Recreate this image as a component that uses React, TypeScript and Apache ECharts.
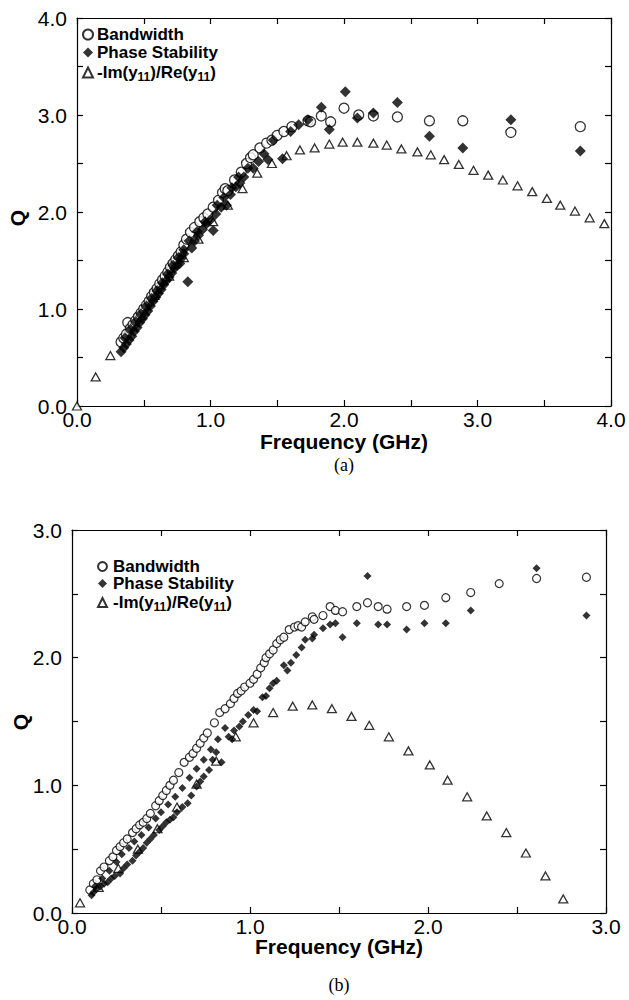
import React, { useEffect, useRef } from "react";
import * as echarts from "echarts";

// ---------- Data: chart (a) ----------
const aBandwidth: [number, number][] = [
  [0.33, 0.66], [0.35, 0.70], [0.37, 0.74], [0.38, 0.86], [0.40, 0.80], [0.42, 0.84], [0.44, 0.88],
  [0.46, 0.92], [0.48, 0.96], [0.50, 1.00], [0.52, 1.04], [0.54, 1.08], [0.56, 1.13], [0.58, 1.17],
  [0.60, 1.21], [0.62, 1.26], [0.64, 1.30], [0.66, 1.34], [0.68, 1.38], [0.70, 1.43], [0.72, 1.47],
  [0.74, 1.51], [0.76, 1.55], [0.78, 1.59], [0.80, 1.66], [0.82, 1.72], [0.85, 1.79], [0.88, 1.84],
  [0.92, 1.90], [0.95, 1.94], [0.98, 1.98], [1.02, 2.05], [1.06, 2.12], [1.09, 2.20], [1.11, 2.24],
  [1.13, 2.22], [1.18, 2.33], [1.23, 2.41], [1.27, 2.50], [1.30, 2.56], [1.32, 2.59], [1.37, 2.66],
  [1.42, 2.71], [1.46, 2.74], [1.50, 2.79], [1.55, 2.83], [1.61, 2.88], [1.73, 2.94], [1.75, 2.93],
  [1.83, 2.99], [1.90, 2.93], [2.00, 3.07], [2.11, 3.00], [2.22, 2.99], [2.40, 2.98], [2.64, 2.94],
  [2.89, 2.94], [3.25, 2.82], [3.77, 2.88],
];
const aPhase: [number, number][] = [
  [0.33, 0.56], [0.35, 0.60], [0.37, 0.64], [0.39, 0.68], [0.41, 0.72], [0.43, 0.77], [0.45, 0.81],
  [0.47, 0.86], [0.49, 0.90], [0.51, 0.94], [0.53, 0.98], [0.55, 1.03], [0.57, 1.08], [0.59, 1.12],
  [0.61, 1.16], [0.63, 1.20], [0.65, 1.25], [0.67, 1.29], [0.69, 1.33], [0.71, 1.37], [0.73, 1.42],
  [0.75, 1.45], [0.77, 1.47], [0.78, 1.52], [0.80, 1.57], [0.83, 1.28], [0.86, 1.63], [0.88, 1.70],
  [0.91, 1.76], [0.94, 1.82], [0.97, 1.88], [1.00, 1.92], [1.02, 1.81], [1.04, 1.98], [1.08, 2.05],
  [1.12, 2.07], [1.15, 2.18], [1.19, 2.26], [1.22, 2.30], [1.25, 2.36], [1.28, 2.45], [1.32, 2.45],
  [1.36, 2.52], [1.40, 2.60], [1.43, 2.54], [1.47, 2.74], [1.54, 2.55], [1.60, 2.83], [1.66, 2.90],
  [1.73, 2.95], [1.83, 3.08], [1.89, 2.85], [2.01, 3.24], [2.10, 2.97], [2.22, 3.02], [2.40, 3.13],
  [2.64, 2.78], [2.89, 2.66], [3.25, 2.95], [3.77, 2.63],
  [0.36, 0.70], [0.40, 0.79], [0.44, 0.87], [0.48, 0.95], [0.52, 1.03], [0.56, 1.11], [0.60, 1.19],
  [0.64, 1.27], [0.68, 1.36], [0.72, 1.45], [0.76, 1.53], [0.80, 1.61], [0.84, 1.70], [0.90, 1.80],
  [0.96, 1.90], [1.05, 2.07], [1.10, 2.15], [1.16, 2.25], [1.21, 2.36],
];
const aImRe: [number, number][] = [
  [0.00, 0.00], [0.14, 0.30], [0.25, 0.52], [0.36, 0.73], [0.47, 0.93], [0.58, 1.14], [0.69, 1.34],
  [0.80, 1.53], [0.91, 1.72], [1.02, 1.90], [1.13, 2.07], [1.24, 2.24], [1.35, 2.40], [1.46, 2.50],
  [1.57, 2.58], [1.67, 2.64], [1.78, 2.66], [1.89, 2.70], [1.99, 2.72], [2.10, 2.72], [2.22, 2.71],
  [2.32, 2.69], [2.43, 2.65], [2.55, 2.62], [2.65, 2.59], [2.75, 2.54], [2.86, 2.49], [2.97, 2.43],
  [3.08, 2.38], [3.19, 2.33], [3.30, 2.27], [3.41, 2.21], [3.52, 2.14], [3.62, 2.07], [3.73, 2.01],
  [3.84, 1.94], [3.95, 1.88],
];

// ---------- Data: chart (b) ----------
const bBandwidth: [number, number][] = [
  [0.10, 0.18], [0.12, 0.23], [0.14, 0.26], [0.16, 0.33], [0.18, 0.36], [0.21, 0.41], [0.23, 0.44],
  [0.25, 0.49], [0.27, 0.52], [0.29, 0.55], [0.31, 0.58], [0.34, 0.63], [0.36, 0.66], [0.38, 0.69],
  [0.40, 0.71], [0.42, 0.74], [0.44, 0.78], [0.47, 0.84], [0.49, 0.88], [0.51, 0.92], [0.53, 0.96],
  [0.55, 1.00], [0.57, 1.04], [0.60, 1.10], [0.63, 1.18], [0.66, 1.22], [0.68, 1.25], [0.70, 1.29],
  [0.72, 1.33], [0.74, 1.37], [0.76, 1.41], [0.80, 1.49], [0.83, 1.57], [0.86, 1.60], [0.89, 1.64],
  [0.91, 1.68], [0.93, 1.72], [0.95, 1.74], [0.97, 1.77], [1.00, 1.80], [1.02, 1.83], [1.04, 1.87],
  [1.06, 1.92], [1.08, 1.96], [1.09, 2.00], [1.11, 2.03], [1.13, 2.06], [1.15, 2.11], [1.17, 2.14],
  [1.19, 2.16], [1.22, 2.22], [1.25, 2.24], [1.27, 2.25], [1.29, 2.24], [1.31, 2.28], [1.35, 2.32],
  [1.36, 2.30], [1.41, 2.33], [1.45, 2.40], [1.48, 2.37], [1.52, 2.36], [1.60, 2.40], [1.66, 2.43],
  [1.72, 2.40], [1.77, 2.38], [1.88, 2.40], [1.98, 2.41], [2.10, 2.47], [2.24, 2.51], [2.40, 2.58],
  [2.61, 2.62], [2.89, 2.63],
];
const bPhase: [number, number][] = [
  [0.11, 0.14], [0.12, 0.16], [0.14, 0.19], [0.16, 0.21], [0.18, 0.23], [0.20, 0.24], [0.22, 0.27],
  [0.24, 0.29], [0.27, 0.31], [0.29, 0.35], [0.31, 0.38], [0.34, 0.41], [0.36, 0.45], [0.38, 0.48],
  [0.40, 0.51], [0.42, 0.55], [0.44, 0.58], [0.46, 0.61], [0.49, 0.65], [0.51, 0.68], [0.53, 0.71],
  [0.55, 0.73], [0.57, 0.75], [0.59, 0.79], [0.62, 0.83], [0.65, 0.86], [0.67, 0.92], [0.70, 0.99],
  [0.72, 1.03], [0.74, 1.07], [0.77, 1.12], [0.79, 1.20], [0.81, 1.26], [0.84, 1.18], [0.88, 1.38],
  [0.90, 1.36], [0.91, 1.43], [0.94, 1.46], [0.96, 1.50], [0.99, 1.55], [1.02, 1.59], [1.04, 1.58],
  [1.07, 1.69], [1.09, 1.70], [1.11, 1.76], [1.13, 1.80], [1.15, 1.82], [1.19, 1.94], [1.21, 1.90],
  [1.23, 1.96], [1.26, 2.02], [1.29, 2.08], [1.31, 2.14], [1.35, 2.15], [1.36, 2.18], [1.41, 2.23],
  [1.45, 2.26], [1.48, 2.27], [1.52, 2.16], [1.60, 2.27], [1.66, 2.64], [1.72, 2.26], [1.77, 2.26],
  [1.88, 2.22], [1.98, 2.27], [2.10, 2.27], [2.24, 2.37], [2.61, 2.70], [2.89, 2.33],
  [0.13, 0.21], [0.17, 0.27], [0.21, 0.33], [0.25, 0.40], [0.28, 0.46], [0.32, 0.51], [0.35, 0.56],
  [0.39, 0.61], [0.43, 0.67], [0.47, 0.74], [0.50, 0.79], [0.54, 0.85], [0.58, 0.91], [0.62, 0.98],
  [0.66, 1.06], [0.70, 1.13], [0.74, 1.20], [0.78, 1.28], [0.82, 1.36], [0.86, 1.45],
];
const bImRe: [number, number][] = [
  [0.045, 0.08], [0.15, 0.20], [0.26, 0.35], [0.37, 0.50], [0.48, 0.66], [0.59, 0.83], [0.70, 1.01],
  [0.81, 1.19], [0.92, 1.38], [1.02, 1.49], [1.13, 1.57], [1.24, 1.62], [1.35, 1.63], [1.46, 1.60],
  [1.57, 1.54], [1.67, 1.47], [1.78, 1.38], [1.89, 1.27], [2.01, 1.16], [2.11, 1.04], [2.22, 0.91],
  [2.33, 0.76], [2.44, 0.63], [2.55, 0.47], [2.66, 0.29], [2.76, 0.11],
];

const legendNames = ["Bandwidth", "Phase Stability", "-Im(y11)/Re(y11)"];
const axisTitleX = "Frequency (GHz)";
const axisTitleY = "Q";

const SANS = "'Liberation Sans', Arial, Helvetica, sans-serif";

export default function App() {
  const ref = useRef<HTMLDivElement>(null);
  useEffect(() => {
    if (!ref.current) return;
    const chart = echarts.init(ref.current, undefined, { renderer: "svg" });

    const fmt = (v: number) => (Math.abs(v - Math.round(v)) < 1e-9 ? v.toFixed(1) : "");
    const labelStyle = (margin: number) => ({
      show: true,
      formatter: fmt,
      color: "#000",
      fontSize: 21,
      lineHeight: 21,
      fontFamily: SANS,
      showMinLabel: true,
      showMaxLabel: true,
      margin,
    });
    const baseAxis = (min: number, max: number, extra: any) => ({
      type: "value",
      min,
      max,
      interval: 0.5,
      splitLine: { show: false },
      axisLine: { show: true, onZero: false, lineStyle: { color: "#000", width: 1.2 } },
      axisTick: { show: true, inside: true, length: 6, lineStyle: { color: "#000", width: 1.2 } },
      axisLabel: labelStyle(8),
      ...extra,
    });
    const hidden = { axisLabel: { show: false } };

    const legendFmt = (name: string) => {
      const n = name.replace(/^[ab]-/, "");
      if (n.indexOf("Im") >= 0) return "{t|-Im(y}{s|11}{t|)/Re(y}{s|11}{t|)}";
      return "{t|" + n + "}";
    };
    const legendRich = {
      t: { fontSize: 17, fontWeight: "bold", fontFamily: SANS, color: "#000", lineHeight: 18 },
      s: { fontSize: 12, fontWeight: "bold", fontFamily: SANS, color: "#000", lineHeight: 18, padding: [9, 0, 0, 0] },
    };

    const mk = (name: string, data: any, symbol: string, size: any, hollow: boolean, xi: number, yi: number, bw: number) => ({
      name,
      type: "scatter",
      xAxisIndex: xi,
      yAxisIndex: yi,
      data,
      symbol,
      symbolSize: size,
      itemStyle: hollow
        ? { color: "#fff", borderColor: "#000", borderWidth: bw }
        : { color: "#000", borderColor: "#000", borderWidth: 0 },
      emphasis: { disabled: true },
      z: 2,
    });

    chart.setOption({
      animation: false,
      backgroundColor: "#fff",
      grid: [
        { left: 77, top: 18, width: 534, height: 388 },
        { left: 72, top: 530, width: 534, height: 383 },
      ],
      xAxis: [
        baseAxis(0, 4, { gridIndex: 0, position: "bottom", axisLabel: labelStyle(3) }),
        baseAxis(0, 4, { gridIndex: 0, position: "top", ...hidden }),
        baseAxis(0, 3, { gridIndex: 1, position: "bottom", axisLabel: labelStyle(3) }),
        baseAxis(0, 3, { gridIndex: 1, position: "top", ...hidden }),
      ],
      yAxis: [
        baseAxis(0, 4, { gridIndex: 0, position: "left", axisLabel: labelStyle(10) }),
        baseAxis(0, 4, { gridIndex: 0, position: "right", ...hidden }),
        baseAxis(0, 3, { gridIndex: 1, position: "left", axisLabel: labelStyle(10) }),
        baseAxis(0, 3, { gridIndex: 1, position: "right", ...hidden }),
      ],
      legend: [
        {
          data: ["a-" + legendNames[0], "a-" + legendNames[1], "a-" + legendNames[2]],
          orient: "vertical",
          left: 82,
          top: 26,
          itemWidth: 10,
          itemHeight: 10,
          itemGap: 1,
          padding: 0,
          selectedMode: false,
          formatter: legendFmt,
          textStyle: { rich: legendRich, padding: [0, 0, 0, -1] },
        },
        {
          data: ["b-" + legendNames[0], "b-" + legendNames[1], "b-" + legendNames[2]],
          orient: "vertical",
          left: 97,
          top: 558,
          itemWidth: 9,
          itemHeight: 9,
          itemGap: 0,
          padding: 0,
          selectedMode: false,
          formatter: legendFmt,
          textStyle: { rich: legendRich, padding: [0, 0, 0, 1] },
        },
      ],
      series: [
        mk("a-" + legendNames[2], aImRe, "triangle", [9, 8], true, 0, 0, 1.3),
        mk("a-" + legendNames[0], aBandwidth, "circle", 10, true, 0, 0, 1.3),
        mk("a-" + legendNames[1], aPhase, "diamond", 11, false, 0, 0, 0),
        mk("b-" + legendNames[2], bImRe, "triangle", [9, 8], true, 2, 2, 1.3),
        mk("b-" + legendNames[0], bBandwidth, "circle", 8, true, 2, 2, 1.2),
        mk("b-" + legendNames[1], bPhase, "diamond", 8, false, 2, 2, 0),
      ],
      graphic: [
        {
          type: "text",
          x: 344,
          y: 441,
          style: { text: axisTitleX, font: "bold 21px " + SANS, align: "center", verticalAlign: "middle", fill: "#000" },
        },
        {
          type: "text",
          x: 17,
          y: 218,
          rotation: Math.PI / 2,
          style: { text: axisTitleY, font: "bold 21px " + SANS, align: "center", verticalAlign: "middle", fill: "#000" },
        },
        {
          type: "text",
          x: 344,
          y: 465,
          style: { text: "(a)", font: "18px 'Liberation Serif', 'Times New Roman', serif", align: "center", verticalAlign: "middle", fill: "#000" },
        },
        {
          type: "text",
          x: 339,
          y: 946,
          style: { text: axisTitleX, font: "bold 21px " + SANS, align: "center", verticalAlign: "middle", fill: "#000" },
        },
        {
          type: "text",
          x: 20,
          y: 722,
          rotation: Math.PI / 2,
          style: { text: axisTitleY, font: "bold 21px " + SANS, align: "center", verticalAlign: "middle", fill: "#000" },
        },
        {
          type: "text",
          x: 339,
          y: 985,
          style: { text: "(b)", font: "18px 'Liberation Serif', 'Times New Roman', serif", align: "center", verticalAlign: "middle", fill: "#000" },
        },
      ],
    });

    return () => chart.dispose();
  }, []);

  return (
    <div
      ref={ref}
      style={{ position: "fixed", left: 0, top: 0, width: 629, height: 1000, background: "#fff" }}
    />
  );
}
